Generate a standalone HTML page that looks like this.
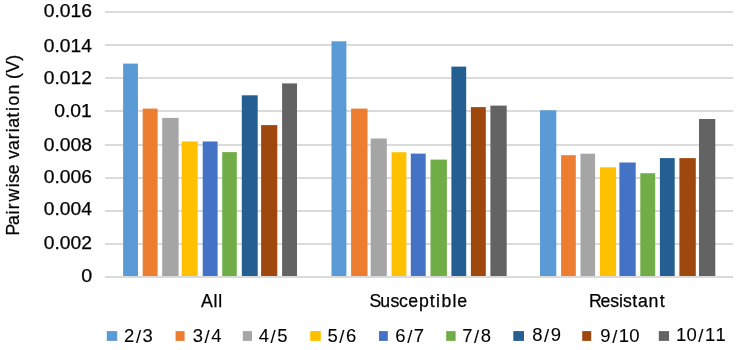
<!DOCTYPE html>
<html lang="en">
<head>
<meta charset="utf-8">
<title>Pairwise variation chart</title>
<style>
html,body{margin:0;padding:0;background:#fff;}
body{width:738px;height:350px;overflow:hidden;}
svg{display:block;}
text{font-family:"Liberation Sans",sans-serif;font-size:17.7px;fill:#000;stroke:#000;stroke-width:0.25px;}
.yl{font-size:18.1px;}
.lg{font-size:17.6px;stroke-width:0.08px;}
</style>
</head>
<body>
<svg width="738" height="350" viewBox="0 0 738 350">
<defs><filter id="gs" x="0" y="0" width="738" height="350" filterUnits="userSpaceOnUse" color-interpolation-filters="sRGB"><feColorMatrix type="saturate" values="0"/></filter></defs>
<rect x="0" y="0" width="738" height="350" fill="#ffffff"/>
<g stroke="#dbdbdb" stroke-width="2" fill="none">
<line x1="105.0" y1="12.00" x2="733.2" y2="12.00"/>
<line x1="105.0" y1="45.00" x2="733.2" y2="45.00"/>
<line x1="105.0" y1="78.00" x2="733.2" y2="78.00"/>
<line x1="105.0" y1="111.00" x2="733.2" y2="111.00"/>
<line x1="105.0" y1="145.00" x2="733.2" y2="145.00"/>
<line x1="105.0" y1="178.00" x2="733.2" y2="178.00"/>
<line x1="105.0" y1="211.00" x2="733.2" y2="211.00"/>
<line x1="105.0" y1="244.00" x2="733.2" y2="244.00"/>
</g>
<g>
<rect x="123.10" y="63.60" width="14.85" height="212.40" fill="#5B9BD5"/>
<rect x="142.70" y="108.60" width="14.90" height="167.40" fill="#ED7D31"/>
<rect x="162.20" y="117.90" width="16.40" height="158.10" fill="#A5A5A5"/>
<rect x="181.70" y="141.50" width="16.00" height="134.50" fill="#FFC000"/>
<rect x="202.70" y="141.50" width="14.90" height="134.50" fill="#4472C4"/>
<rect x="222.20" y="152.10" width="14.60" height="123.90" fill="#70AD47"/>
<rect x="241.80" y="95.30" width="15.90" height="180.70" fill="#255E91"/>
<rect x="261.10" y="125.10" width="16.20" height="150.90" fill="#9E480E"/>
<rect x="282.10" y="83.40" width="14.90" height="192.60" fill="#636363"/>
<rect x="331.50" y="41.30" width="14.90" height="234.70" fill="#5B9BD5"/>
<rect x="351.10" y="108.60" width="16.40" height="167.40" fill="#ED7D31"/>
<rect x="370.70" y="138.50" width="16.10" height="137.50" fill="#A5A5A5"/>
<rect x="391.60" y="152.20" width="14.80" height="123.80" fill="#FFC000"/>
<rect x="410.80" y="153.60" width="14.90" height="122.40" fill="#4472C4"/>
<rect x="430.50" y="159.60" width="16.40" height="116.40" fill="#70AD47"/>
<rect x="451.40" y="66.60" width="14.80" height="209.40" fill="#255E91"/>
<rect x="470.90" y="107.10" width="14.90" height="168.90" fill="#9E480E"/>
<rect x="490.40" y="105.60" width="16.30" height="170.40" fill="#636363"/>
<rect x="540.00" y="110.30" width="16.30" height="165.70" fill="#5B9BD5"/>
<rect x="561.10" y="155.20" width="14.70" height="120.80" fill="#ED7D31"/>
<rect x="580.50" y="153.70" width="14.60" height="122.30" fill="#A5A5A5"/>
<rect x="599.90" y="167.30" width="16.20" height="108.70" fill="#FFC000"/>
<rect x="619.40" y="162.50" width="16.30" height="113.50" fill="#4472C4"/>
<rect x="640.30" y="173.20" width="14.90" height="102.80" fill="#70AD47"/>
<rect x="659.90" y="158.10" width="14.80" height="117.90" fill="#255E91"/>
<rect x="679.40" y="158.10" width="16.40" height="117.90" fill="#9E480E"/>
<rect x="699.00" y="119.00" width="16.30" height="157.00" fill="#636363"/>
</g>
<line x1="105.0" y1="277.00" x2="733.2" y2="277.00" stroke="#dbdbdb" stroke-width="2"/>
<g>
<rect x="106.80" y="331.1" width="10.45" height="9.8" fill="#5B9BD5"/>
<rect x="175.60" y="331.1" width="9.00" height="9.8" fill="#ED7D31"/>
<rect x="242.80" y="331.1" width="9.20" height="9.8" fill="#A5A5A5"/>
<rect x="310.20" y="331.1" width="10.60" height="9.8" fill="#FFC000"/>
<rect x="379.00" y="331.1" width="8.80" height="9.8" fill="#4472C4"/>
<rect x="446.20" y="331.1" width="9.40" height="9.8" fill="#70AD47"/>
<rect x="513.30" y="331.1" width="10.70" height="9.8" fill="#255E91"/>
<rect x="582.20" y="331.1" width="9.05" height="9.8" fill="#9E480E"/>
<rect x="658.80" y="331.1" width="10.25" height="9.8" fill="#636363"/>
</g>
<g filter="url(#gs)">
<g>
<text class="yl" x="43.70" y="17.05" textLength="48.35" lengthAdjust="spacingAndGlyphs">0.016</text>
<text class="yl" x="43.70" y="51.50" textLength="48.15" lengthAdjust="spacingAndGlyphs">0.014</text>
<text class="yl" x="43.70" y="83.50" textLength="48.25" lengthAdjust="spacingAndGlyphs">0.012</text>
<text class="yl" x="54.25" y="116.75" textLength="37.55" lengthAdjust="spacingAndGlyphs">0.01</text>
<text class="yl" x="43.70" y="151.05" textLength="48.30" lengthAdjust="spacingAndGlyphs">0.008</text>
<text class="yl" x="43.70" y="182.65" textLength="48.30" lengthAdjust="spacingAndGlyphs">0.006</text>
<text class="yl" x="43.70" y="214.85" textLength="48.15" lengthAdjust="spacingAndGlyphs">0.004</text>
<text class="yl" x="43.70" y="248.55" textLength="48.25" lengthAdjust="spacingAndGlyphs">0.002</text>
<text class="yl" x="81.20" y="282.40" textLength="10.95" lengthAdjust="spacingAndGlyphs">0</text>
</g>
<g transform="translate(19.05,233.85) rotate(-90)">
<text class="yt" x="-1.77 8.96 19.37 24.53 32.35 46.70 50.79 59.65 69.73 74.74 83.89 94.57 101.64 106.05 116.38 122.75 128.27 139.36 149.73 154.82 161.03 173.14" y="0">Pairwise variation (V)</text>
</g>
<g>
<text class="cl" x="201.08 213.41 218.28" y="307.2">All</text>
<text class="cl" x="369.50 380.33 390.46 399.01 408.18 418.90 429.75 436.11 441.59 452.49 457.17" y="307.2">Susceptible</text>
<text class="cl" x="588.91 600.40 610.13 619.05 622.91 632.19 638.06 648.39 659.70" y="307.2">Resistant</text>
</g>
<g transform="scale(1.05,1)">
<text class="lg" x="118.20 129.46 135.82" y="341.80" dy="0.00 0.85 -0.85">2/3</text>
<text class="lg" x="183.58 194.84 201.20" y="341.80" dy="0.00 0.85 -0.85">3/4</text>
<text class="lg" x="246.39 257.65 264.01" y="341.80" dy="0.00 0.85 -0.85">4/5</text>
<text class="lg" x="311.96 323.22 329.58" y="341.80" dy="0.00 0.85 -0.85">5/6</text>
<text class="lg" x="376.54 387.79 394.15" y="341.90" dy="0.00 0.85 -0.85">6/7</text>
<text class="lg" x="440.15 451.41 457.77" y="341.95" dy="0.00 0.85 -0.85">7/8</text>
<text class="lg" x="506.92 518.17 524.54" y="341.40" dy="0.00 0.85 -0.85">8/9</text>
<text class="lg" x="571.77 583.03 589.39 599.39" y="341.90" dy="0.00 0.85 -0.85 0.00">9/10</text>
<text class="lg" x="643.73 653.73 664.98 671.35 681.35" y="340.90" dy="0.00 0.00 0.85 -0.85 0.00">10/11</text>
</g>
</g>
</svg>
</body>
</html>
